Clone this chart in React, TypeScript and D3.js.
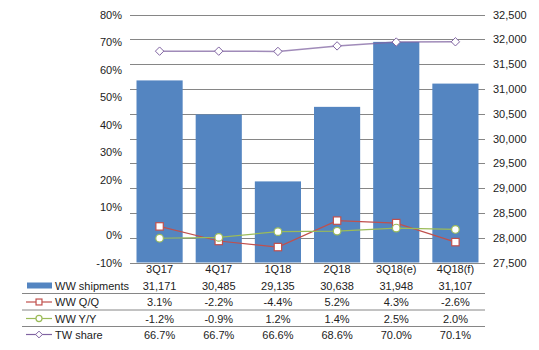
import * as d3 from 'd3';

const quarters = ['3Q17', '4Q17', '1Q18', '2Q18', '3Q18(e)', '4Q18(f)'];
const shipments = [31171, 30485, 29135, 30638, 31948, 31107];
const qoq = [3.1, -2.2, -4.4, 5.2, 4.3, -2.6];
const yoy = [-1.2, -0.9, 1.2, 1.4, 2.5, 2.0];
const twShare = [66.7, 66.7, 66.6, 68.6, 70.0, 70.1];

const leftTicks = [-10, 0, 10, 20, 30, 40, 50, 60, 70, 80];
const rightTicks = [27500, 28000, 28500, 29000, 29500, 30000, 30500, 31000, 31500, 32000, 32500];

const W = 539;
const H = 350;
const FONT = '"Liberation Sans", Arial, sans-serif';
const BLUE = '#5485C1';
const RED = '#C0504D';
const GREEN = '#9BBB59';
const PURPLE = '#8064A2';
const GRID = '#868686';

export default function App() {
  const x = d3.scaleBand<string>().domain(quarters).range([130, 485]).paddingInner(0.22).paddingOuter(0.11);
  const yL = d3.scaleLinear().domain([-10, 80]).range([262.5, 14.5]);
  const yR = d3.scaleLinear().domain([27500, 32500]).range([262.5, 14.5]);
  const cx = (q: string) => (x(q) ?? 0) + x.bandwidth() / 2;
  const fmtN = d3.format(',');
  const fmtP = (v: number) => `${v.toFixed(1)}%`;

  const line = (vals: number[]) =>
    d3.line<number>().x((_, i) => cx(quarters[i])).y((d) => yL(d))(vals) ?? '';

  const rows = [
    { name: 'WW shipments', kind: 'bar', vals: shipments.map(fmtN) },
    { name: 'WW Q/Q', kind: 'square', vals: qoq.map(fmtP) },
    { name: 'WW Y/Y', kind: 'circle', vals: yoy.map(fmtP) },
    { name: 'TW share', kind: 'diamond', vals: twShare.map(fmtP) },
  ];
  const rowY = [285.5, 302, 318.5, 334.5];
  const sepY = [293.5, 310, 326.5];

  const marker = (kind: string, px: number, py: number, key: string | number, s = 1) => {
    if (kind === 'square')
      return <rect key={key} x={px - 3.7 * s} y={py - 3.7 * s} width={7.4 * s} height={7.4 * s} fill="#fff" stroke={RED} strokeWidth={1.2} />;
    if (kind === 'circle')
      return <circle key={key} cx={px} cy={py} r={3.8 * s} fill="#fff" stroke={GREEN} strokeWidth={1.2} />;
    const r = 4.2 * s;
    return (
      <path key={key} d={`M${px},${py - r}L${px + r},${py}L${px},${py + r}L${px - r},${py}Z`} fill="#fff" stroke={PURPLE} strokeWidth={1} />
    );
  };

  return (
    <svg width={W} height={H} style={{ position: 'absolute', left: 0, top: 0, background: '#fff' }} fontFamily={FONT}>
      {/* gridlines follow the right axis */}
      {rightTicks.map((t) => (
        <line key={t} x1={130} x2={485} y1={Math.round(yR(t)) + 0.5} y2={Math.round(yR(t)) + 0.5} stroke={GRID} strokeWidth={1} />
      ))}
      {/* left axis labels */}
      {leftTicks.map((t) => (
        <text key={t} x={122} y={yL(t) + 4} textAnchor="end" fontSize={11} fill="#222">{`${t}%`}</text>
      ))}
      {/* right axis labels */}
      {rightTicks.map((t) => (
        <text key={t} x={493} y={yR(t) + 4} textAnchor="start" fontSize={11} fill="#222">{fmtN(t)}</text>
      ))}
      {/* bars */}
      {quarters.map((q, i) => (
        <rect key={q} x={x(q)} y={yR(shipments[i])} width={x.bandwidth()} height={yR(27500) - yR(shipments[i])} fill={BLUE} />
      ))}
      {/* lines */}
      <path d={line(twShare)} fill="none" stroke={PURPLE} strokeWidth={1.5} strokeOpacity={0.75} />
      <path d={line(qoq)} fill="none" stroke={RED} strokeWidth={1.2} />
      <path d={line(yoy)} fill="none" stroke={GREEN} strokeWidth={1.2} />
      {twShare.map((v, i) => marker('diamond', cx(quarters[i]), yL(v), `d${i}`))}
      {qoq.map((v, i) => marker('square', cx(quarters[i]), yL(v), `s${i}`))}
      {yoy.map((v, i) => marker('circle', cx(quarters[i]), yL(v), `c${i}`))}
      {/* category labels */}
      {quarters.map((q) => (
        <text key={q} x={cx(q)} y={273} textAnchor="middle" fontSize={11} fill="#222">{q}</text>
      ))}
      {/* data table */}
      {sepY.map((y) => (
        <line key={y} x1={22} x2={485} y1={y} y2={y} stroke={GRID} strokeWidth={1} />
      ))}
      {rows.map((r, ri) => (
        <g key={r.name}>
          {r.kind === 'bar' ? (
            <rect x={27} y={rowY[ri] - 3} width={25} height={6} fill={BLUE} />
          ) : (
            <>
              <line x1={26} x2={52} y1={rowY[ri]} y2={rowY[ri]} stroke={r.kind === 'square' ? RED : r.kind === 'circle' ? GREEN : PURPLE} strokeWidth={1.2} />
              {marker(r.kind, 39, rowY[ri], 'k', 0.8)}
            </>
          )}
          <text x={55} y={rowY[ri] + 4} fontSize={11} fill="#222">{r.name}</text>
          {r.vals.map((v, i) => (
            <text key={i} x={cx(quarters[i])} y={rowY[ri] + 4} textAnchor="middle" fontSize={11} fill="#222">{v}</text>
          ))}
        </g>
      ))}
    </svg>
  );
}
